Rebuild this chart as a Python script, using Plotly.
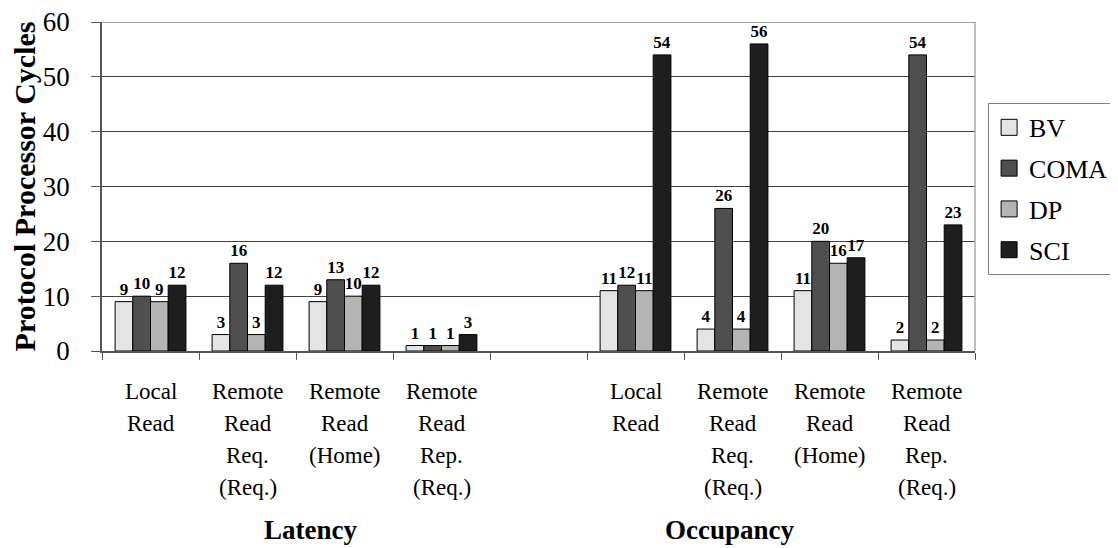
import plotly.graph_objects as go

# ---- data ----
groups = ["Latency", "Occupancy"]
categories = ["Local\nRead", "Remote\nRead\nReq.\n(Req.)", "Remote\nRead\n(Home)", "Remote\nRead\nRep.\n(Req.)"]
series = ["BV", "COMA", "DP", "SCI"]
bv = [9, 3, 9, 1, 11, 4, 11, 2]
coma = [10, 16, 13, 1, 12, 26, 20, 54]
dp = [9, 3, 10, 1, 11, 4, 16, 2]
sci = [12, 12, 12, 3, 54, 56, 17, 23]
y_ticks = [0, 10, 20, 30, 40, 50, 60]

colors = ["#e4e4e4", "#4f4f4f", "#b4b4b4", "#1e1e1e"]
FONT = "Liberation Serif"

# x positions: one empty slot between the two groups
ncat = len(categories)
xpos = [g * (ncat + 1) + i for g in range(len(groups)) for i in range(ncat)]

fig = go.Figure()
for name, vals, col in zip(series, [bv, coma, dp, sci], colors):
    fig.add_trace(go.Bar(
        x=xpos, y=vals, name=name, showlegend=False,
        marker=dict(color=col, line=dict(color="#000000", width=1)),
        text=vals, texttemplate="<b>%{y}</b>", textposition="outside",
        textfont=dict(family=FONT, size=17, color="#000000"),
        constraintext="none", cliponaxis=False,
    ))
# legend entries
for k, (name, col) in enumerate(zip(series, colors)):
    fig.add_trace(go.Scatter(
        x=[None], y=[None], mode="markers", name=name, legendgroup=name,
        marker=dict(symbol="square", size=18, color=col, line=dict(color="#000000", width=1)),
    ))

# category labels (one annotation per line)
ann = []
for g in range(len(groups)):
    for i, cat in enumerate(categories):
        for j, line in enumerate(cat.split("\n")):
            ann.append(dict(x=g * (ncat + 1) + i, xref="x", y=0, yref="paper",
                            text=line, showarrow=False, yanchor="middle",
                            yshift=-40 - 32 * j,
                            font=dict(family=FONT, size=23, color="#000000")))
for gx, g in zip([0.1833, 0.796], groups):
    ann.append(dict(x=gx, xref="paper", y=0, yref="paper", text="<b>%s</b>" % g,
                    showarrow=False, yanchor="middle", yshift=-179,
                    font=dict(family=FONT, size=27, color="#000000")))

n_slots = len(groups) * (ncat + 1) - 1
fig.update_layout(
    width=1110, height=540,
    margin=dict(l=94, r=143, t=14, b=197, autoexpand=False),
    paper_bgcolor="white", plot_bgcolor="white",
    barmode="group", bargap=0.27, bargroupgap=0,
    font=dict(family=FONT, color="#000000"),
    annotations=ann,
    legend=dict(x=1.015, y=0.754, xanchor="left", yanchor="top",
                bordercolor="#808080", borderwidth=1, tracegroupgap=4,
                font=dict(family=FONT, size=26, color="#000000"),
                itemsizing="trace"),
    shapes=[dict(type="line", xref="paper", yref="paper", x0=1, x1=1, y0=0, y1=1,
                 line=dict(color="#aaaaaa", width=1.5)),
            dict(type="line", xref="paper", yref="y", x0=0, x1=1, y0=60, y1=60,
                 line=dict(color="#404040", width=1))],
)
fig.update_xaxes(
    range=[-0.5, n_slots - 0.5], showgrid=False, zeroline=False, automargin=False,
    tickvals=[k - 0.5 for k in range(n_slots + 1)], ticktext=[""] * (n_slots + 1),
    ticks="outside", ticklen=7, tickcolor="#555555", tickwidth=1.2,
    showline=True, linecolor="#555555", linewidth=1.5, showticklabels=False,
)
fig.update_yaxes(
    range=[0, 60], tickvals=y_ticks, showgrid=True, gridcolor="#404040", gridwidth=1,
    zeroline=False, ticks="outside", ticklen=9, tickcolor="#555555", tickwidth=1.2,
    showline=True, linecolor="#555555", linewidth=1.5, automargin=False,
    ticklabeloverflow="allow",
    tickfont=dict(family=FONT, size=27, color="#000000"), ticklabelstandoff=16,
    title=dict(text="<b>Protocol Processor Cycles</b>", standoff=18,
               font=dict(family=FONT, size=30, color="#000000")),
)

fig.write_html("out.html")
